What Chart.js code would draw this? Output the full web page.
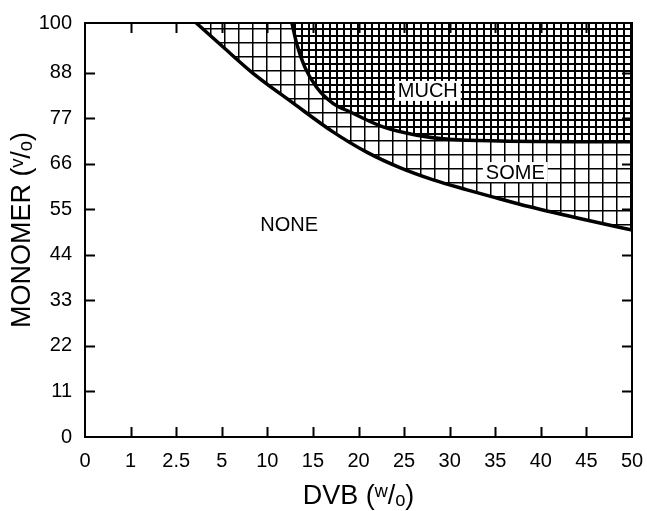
<!DOCTYPE html>
<html>
<head>
<meta charset="utf-8">
<script src="https://cdn.jsdelivr.net/npm/chart.js@4/dist/chart.umd.min.js"></script>
<style>
  html, body { margin: 0; padding: 0; background: #fff; }
  canvas { display: block; }
</style>
</head>
<body>
<canvas id="chart" width="647" height="511"></canvas>
<script>
// x axis: categories are evenly spaced, values are not
const xTickValues = [0, 1, 2.5, 5, 10, 15, 20, 25, 30, 35, 40, 45, 50];
const xTickLabels = ['0', '1', '2.5', '5', '10', '15', '20', '25', '30', '35', '40', '45', '50'];
const yTickValues = [0, 11, 22, 33, 44, 55, 66, 77, 88, 100];

// boundary NONE / SOME
const someDvb     = [3.6, 5.15, 8.4, 12.8, 17.2, 20.9, 24.6, 28.2, 31.9, 34.7, 38.8, 45, 50];
const someMonomer = [100, 94.2, 87.9, 80.7, 73.7, 68.8, 65.0, 62.1, 59.7, 58.0, 55.6, 52.4, 50];

// boundary SOME / MUCH
const muchDvb     = [12.7, 13.2, 14.1, 15.4, 17.2, 19.1, 22.7, 26.4, 30, 35.5, 50];
const muchMonomer = [100, 95.2, 89.4, 84.5, 80.6, 78.5, 74.9, 72.9, 71.9, 71.5, 71.3];

// region names, placed at (DVB, MONOMER)
const regionNames = ['MUCH', 'SOME', 'NONE'];
const regionDvb = [27.6, 37.2, 12.4];
const regionMonomer = [83.6, 64, 51.4];
const regionBoxed = [true, true, false];

const FONT = '"Liberation Sans", Arial, Helvetica, sans-serif';

// DVB value -> index on the evenly spaced category axis
function dvbToPos(v) {
    for (let i = 1; i < xTickValues.length; i++) {
        if (v <= xTickValues[i]) {
            const a = xTickValues[i - 1], b = xTickValues[i];
            return i - 1 + (v - a) / (b - a);
        }
    }
    return xTickValues.length - 1;
}

function toPoints(xs, ys) {
    return xs.map((x, i) => ({ x: dvbToPos(x), y: ys[i] }));
}

const ctx = document.getElementById('chart').getContext('2d');

function gridPattern(step, lw) {
    const c = document.createElement('canvas');
    c.width = step;
    c.height = step;
    const g = c.getContext('2d');
    g.fillStyle = '#fff';
    g.fillRect(0, 0, step, step);
    g.fillStyle = '#000';
    g.fillRect(0, 0, step, lw);
    g.fillRect(0, 0, lw, step);
    return ctx.createPattern(c, 'repeat');
}

// frame, inward tick marks and region names
const framePlugin = {
    id: 'frame',
    afterDatasetsDraw(chart) {
        const { ctx, chartArea: a, scales } = chart;
        const len = 10;
        ctx.save();
        ctx.strokeStyle = '#000';
        ctx.lineWidth = 2;
        ctx.beginPath();
        for (let i = 1; i < xTickValues.length - 1; i++) {
            const x = Math.round(scales.x.getPixelForValue(i)) + 0.5;
            ctx.moveTo(x, a.bottom); ctx.lineTo(x, a.bottom - len);
            ctx.moveTo(x, a.top); ctx.lineTo(x, a.top + len);
        }
        for (let i = 1; i < yTickValues.length - 1; i++) {
            const y = Math.round(scales.y.getPixelForValue(yTickValues[i])) + 0.5;
            ctx.moveTo(a.left, y); ctx.lineTo(a.left + len, y);
            ctx.moveTo(a.right, y); ctx.lineTo(a.right - len, y);
        }
        ctx.stroke();
        ctx.strokeRect(a.left, a.top, a.right - a.left, a.bottom - a.top);

        ctx.font = '20px ' + FONT;
        ctx.textAlign = 'center';
        ctx.textBaseline = 'middle';
        regionNames.forEach((name, i) => {
            const x = scales.x.getPixelForValue(dvbToPos(regionDvb[i]));
            const y = scales.y.getPixelForValue(regionMonomer[i]);
            if (regionBoxed[i]) {
                const w = ctx.measureText(name).width + 6;
                ctx.fillStyle = '#fff';
                ctx.fillRect(x - w / 2, y - 10, w, 20);
            }
            ctx.fillStyle = '#000';
            ctx.fillText(name, x, y + 1);
        });
        ctx.restore();
    }
};

new Chart(ctx, {
    type: 'line',
    data: {
        datasets: [
            {
                label: 'MUCH',
                data: toPoints(muchDvb, muchMonomer),
                borderColor: '#000',
                borderWidth: 3.5,
                backgroundColor: gridPattern(7, 2),
                fill: 'end',
                pointRadius: 0,
                cubicInterpolationMode: 'monotone'
            },
            {
                label: 'SOME',
                data: toPoints(someDvb, someMonomer),
                borderColor: '#000',
                borderWidth: 3.5,
                backgroundColor: gridPattern(14, 1.5),
                fill: 'end',
                pointRadius: 0,
                cubicInterpolationMode: 'monotone'
            }
        ]
    },
    options: {
        responsive: false,
        animation: false,
        devicePixelRatio: 1,
        layout: { padding: { top: 23, right: 15, left: 0, bottom: 0 } },
        plugins: {
            legend: { display: false },
            tooltip: { enabled: false }
        },
        scales: {
            x: {
                type: 'linear',
                min: 0,
                max: xTickValues.length - 1,
                afterBuildTicks: scale => {
                    scale.ticks = xTickLabels.map((_, i) => ({ value: i }));
                },
                afterFit: scale => {
                    scale.height = 74;
                    scale.paddingLeft = 0;
                    scale.paddingRight = 0;
                },
                grid: { display: false, drawTicks: false },
                border: { display: false },
                ticks: {
                    color: '#000',
                    font: { family: FONT, size: 20 },
                    padding: 12,
                    maxRotation: 0,
                    autoSkip: false,
                    callback: v => xTickLabels[v]
                },
                title: {
                    display: true,
                    text: 'DVB (ʷ/ₒ)',
                    color: '#000',
                    font: { family: FONT, size: 27, lineHeight: 1 },
                    padding: { top: 0, bottom: 1 }
                }
            },
            y: {
                type: 'linear',
                min: 0,
                max: 100,
                afterBuildTicks: scale => {
                    scale.ticks = yTickValues.map(v => ({ value: v }));
                },
                afterFit: scale => {
                    scale.width = 85;
                    scale.paddingTop = 0;
                    scale.paddingBottom = 0;
                },
                grid: { display: false, drawTicks: false },
                border: { display: false },
                ticks: {
                    color: '#000',
                    font: { family: FONT, size: 20 },
                    padding: 13,
                    autoSkip: false
                },
                title: {
                    display: true,
                    text: 'MONOMER (ᵛ/ₒ)',
                    color: '#000',
                    font: { family: FONT, size: 27, lineHeight: 1 },
                    padding: { top: 9, bottom: 0 }
                }
            }
        }
    },
    plugins: [framePlugin]
});
</script>
</body>
</html>
